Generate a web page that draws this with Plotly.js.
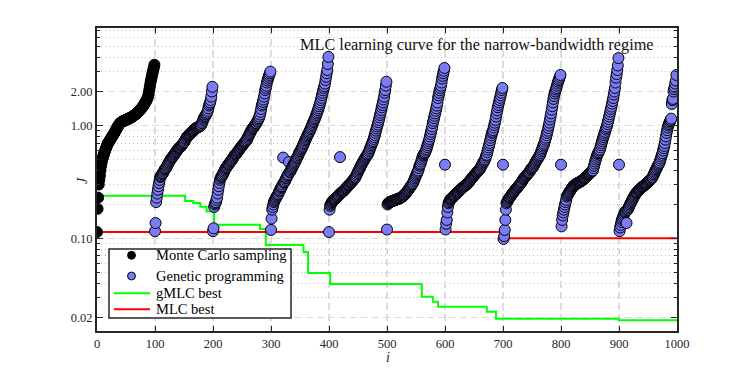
<!DOCTYPE html>
<html>
<head>
<meta charset="utf-8">
<script src="https://cdn.plot.ly/plotly-3.0.1.min.js"></script>
<style>html,body{margin:0;padding:0;background:#fff;}#chart{width:747px;height:374px;}</style>
</head>
<body>
<div id="chart"></div>
<script>
// ---- data ----
const mcJ = [0.114,0.183,0.23,0.30,0.33,0.36,0.40,0.44,0.47,0.50,
0.52,0.54,0.56,0.58,0.60,0.62,0.64,0.66,0.68,0.70,
0.71,0.72,0.74,0.75,0.77,0.78,0.80,0.81,0.83,0.84,
0.86,0.88,0.90,0.92,0.94,0.96,0.98,1.00,1.02,1.04,
1.05,1.06,1.07,1.08,1.09,1.09,1.10,1.10,1.11,1.11,
1.12,1.13,1.13,1.14,1.15,1.15,1.16,1.17,1.17,1.18,
1.19,1.20,1.21,1.22,1.23,1.24,1.25,1.26,1.27,1.29,
1.30,1.32,1.33,1.35,1.37,1.39,1.41,1.43,1.45,1.47,
1.50,1.53,1.56,1.59,1.62,1.66,1.70,1.75,1.80,1.90,
2.05,2.20,2.35,2.50,2.65,2.80,2.95,3.10,3.25,3.45];

const gpGen1 = [0.116,0.137,0.21,0.23,0.25,0.27,0.29,0.31,0.33,0.35,
0.355,0.36,0.37,0.375,0.38,0.39,0.40,0.41,0.415,0.42,
0.43,0.44,0.45,0.46,0.47,0.48,0.49,0.50,0.51,0.52,
0.525,0.53,0.54,0.55,0.56,0.57,0.58,0.59,0.60,0.61,
0.62,0.63,0.635,0.64,0.65,0.66,0.67,0.68,0.69,0.70,
0.71,0.72,0.74,0.76,0.77,0.79,0.80,0.81,0.82,0.83,
0.84,0.85,0.86,0.87,0.88,0.89,0.90,0.91,0.92,0.93,
0.94,0.95,0.955,0.96,0.965,0.97,0.98,0.985,0.99,1.00,
1.02,1.05,1.08,1.12,1.15,1.18,1.20,1.22,1.25,1.27,
1.30,1.35,1.42,1.50,1.55,1.60,1.68,1.80,2.00,2.20];

const gpGen2 = [0.116,0.123,0.19,0.20,0.205,0.21,0.22,0.23,0.25,0.27,
0.29,0.31,0.33,0.34,0.35,0.355,0.36,0.37,0.38,0.39,
0.40,0.41,0.42,0.425,0.43,0.44,0.45,0.455,0.46,0.47,
0.48,0.485,0.49,0.50,0.51,0.52,0.53,0.54,0.55,0.555,
0.56,0.57,0.58,0.59,0.60,0.61,0.62,0.63,0.64,0.65,
0.66,0.67,0.68,0.69,0.70,0.71,0.72,0.73,0.74,0.76,
0.78,0.80,0.82,0.84,0.86,0.88,0.90,0.92,0.94,0.95,
0.96,0.98,1.00,1.02,1.04,1.05,1.08,1.10,1.13,1.16,
1.20,1.25,1.32,1.40,1.50,1.55,1.62,1.70,1.80,1.92,
2.06,2.15,2.25,2.40,2.50,2.60,2.70,2.80,2.90,3.00];

const gpGen3 = [0.119,0.15,0.18,0.19,0.20,0.21,0.215,0.22,0.225,0.23,
0.235,0.24,0.245,0.25,0.26,0.265,0.27,0.28,0.285,0.29,
0.30,0.52,0.31,0.315,0.32,0.33,0.34,0.345,0.355,0.365,
0.37,0.475,0.385,0.39,0.40,0.41,0.42,0.43,0.44,0.45,
0.46,0.47,0.48,0.495,0.51,0.52,0.53,0.545,0.56,0.575,
0.59,0.60,0.615,0.63,0.645,0.66,0.68,0.70,0.72,0.74,
0.76,0.78,0.80,0.82,0.84,0.86,0.88,0.90,0.93,0.95,
0.98,1.01,1.04,1.07,1.10,1.13,1.16,1.20,1.24,1.28,
1.32,1.37,1.42,1.48,1.54,1.60,1.68,1.76,1.86,1.95,
2.05,2.15,2.23,2.35,2.53,2.70,2.90,3.10,3.50,4.05];

const gpGen4 = [0.114,0.18,0.195,0.20,0.205,0.21,0.212,0.215,0.218,0.22,
0.222,0.225,0.228,0.23,0.233,0.236,0.24,0.243,0.246,0.525,
0.25,0.252,0.255,0.258,0.26,0.263,0.266,0.27,0.273,0.276,
0.28,0.284,0.288,0.292,0.296,0.30,0.304,0.308,0.312,0.316,
0.32,0.325,0.33,0.335,0.34,0.345,0.35,0.36,0.37,0.38,
0.39,0.40,0.41,0.42,0.43,0.44,0.45,0.46,0.47,0.48,
0.49,0.50,0.51,0.52,0.53,0.54,0.55,0.56,0.57,0.59,
0.61,0.63,0.65,0.67,0.69,0.71,0.73,0.76,0.79,0.82,
0.86,0.90,0.94,0.98,1.02,1.07,1.12,1.18,1.24,1.30,
1.37,1.45,1.52,1.60,1.70,1.80,1.95,2.06,2.25,2.44];

const gpGen5 = [0.12,0.20,0.205,0.207,0.209,0.21,0.211,0.212,0.213,0.214,
0.215,0.216,0.217,0.218,0.219,0.22,0.221,0.222,0.223,0.224,
0.225,0.226,0.227,0.228,0.23,0.232,0.234,0.236,0.238,0.24,
0.243,0.246,0.25,0.254,0.258,0.262,0.266,0.27,0.275,0.28,
0.285,0.29,0.295,0.30,0.305,0.31,0.32,0.33,0.34,0.35,
0.36,0.37,0.38,0.39,0.40,0.42,0.44,0.45,0.46,0.48,
0.50,0.52,0.54,0.55,0.56,0.57,0.58,0.60,0.62,0.645,
0.67,0.70,0.73,0.76,0.80,0.84,0.88,0.93,0.98,1.05,
1.10,1.16,1.22,1.28,1.35,1.42,1.50,1.60,1.75,1.85,
1.95,2.05,2.15,2.25,2.40,2.60,2.75,2.90,3.05,3.23];

const gpGen6 = [0.45,0.12,0.135,0.146,0.17,0.19,0.205,0.21,0.215,0.22,
0.222,0.225,0.228,0.23,0.233,0.236,0.239,0.242,0.245,0.248,
0.25,0.253,0.256,0.259,0.262,0.265,0.269,0.272,0.275,0.278,
0.28,0.283,0.286,0.289,0.292,0.295,0.298,0.30,0.303,0.306,
0.31,0.315,0.32,0.325,0.33,0.335,0.34,0.345,0.35,0.355,
0.36,0.365,0.37,0.375,0.38,0.385,0.39,0.395,0.40,0.405,
0.41,0.42,0.43,0.44,0.45,0.46,0.47,0.48,0.49,0.50,
0.52,0.54,0.55,0.58,0.61,0.64,0.67,0.70,0.74,0.78,
0.82,0.86,0.88,0.91,0.96,1.01,1.06,1.12,1.20,1.28,
1.36,1.45,1.52,1.60,1.68,1.76,1.85,1.95,2.06,2.15];

const gpGen7 = [0.45,0.099,0.105,0.119,0.146,0.18,0.205,0.21,0.215,0.22,
0.225,0.228,0.232,0.236,0.24,0.244,0.248,0.252,0.256,0.26,
0.264,0.268,0.272,0.276,0.28,0.284,0.288,0.292,0.296,0.30,
0.305,0.31,0.315,0.32,0.33,0.335,0.34,0.345,0.35,0.355,
0.36,0.365,0.37,0.375,0.38,0.385,0.39,0.40,0.41,0.415,
0.42,0.425,0.43,0.44,0.45,0.46,0.47,0.48,0.49,0.50,
0.51,0.52,0.53,0.54,0.55,0.57,0.59,0.61,0.63,0.65,
0.67,0.69,0.72,0.75,0.78,0.82,0.86,0.90,0.95,1.00,
1.06,1.13,1.20,1.28,1.38,1.48,1.60,1.72,1.82,1.92,
2.00,2.08,2.15,2.25,2.35,2.44,2.52,2.60,2.70,2.80];

const gpGen8 = [0.45,0.128,0.146,0.16,0.17,0.18,0.19,0.20,0.21,0.22,
0.235,0.24,0.245,0.25,0.255,0.26,0.265,0.27,0.275,0.28,
0.285,0.29,0.293,0.296,0.30,0.302,0.304,0.306,0.308,0.31,
0.312,0.314,0.316,0.318,0.32,0.323,0.326,0.328,0.33,0.334,
0.338,0.342,0.346,0.35,0.354,0.358,0.362,0.366,0.37,0.374,
0.378,0.382,0.386,0.39,0.395,0.40,0.42,0.44,0.46,0.48,
0.50,0.52,0.54,0.56,0.57,0.58,0.60,0.61,0.64,0.67,
0.70,0.73,0.76,0.79,0.82,0.85,0.88,0.92,0.95,0.98,
1.03,1.08,1.14,1.20,1.26,1.33,1.40,1.47,1.56,1.65,
1.75,1.88,2.00,2.15,2.40,2.65,2.85,3.10,3.40,3.95];

const gpGen9 = [0.45,0.116,0.125,0.132,0.14,0.146,0.15,0.155,0.16,0.165,
0.17,0.172,0.175,0.137,0.178,0.18,0.185,0.19,0.195,0.20,
0.205,0.21,0.215,0.22,0.225,0.23,0.235,0.24,0.245,0.25,
0.253,0.256,0.26,0.263,0.266,0.27,0.273,0.276,0.28,0.283,
0.285,0.288,0.29,0.293,0.296,0.30,0.303,0.306,0.31,0.313,
0.316,0.32,0.323,0.326,0.33,0.335,0.34,0.345,0.35,0.36,
0.37,0.38,0.39,0.40,0.41,0.42,0.43,0.44,0.45,0.46,
0.47,0.49,0.51,0.53,0.55,0.57,0.60,0.63,0.66,0.70,
0.75,0.80,0.86,0.91,0.96,1.00,1.03,1.06,1.09,1.12,
1.15,1.55,1.68,1.72,2.00,2.10,2.20,2.35,2.50,2.80];

const gmlcStepI = [0,152,166,178,189,202,281,291,356,364,402,560,579,588,672,688,899,1000];
const gmlcStepJ = [0.239,0.215,0.206,0.191,0.173,0.132,0.121,0.0876,0.076,0.0495,0.0396,0.0305,0.0276,0.0249,0.0225,0.0195,0.0189,0.0189];
const mlcStepI = [0,705,1000];
const mlcStepJ = [0.114,0.1004,0.1004];

const xTickVals = [0,100,200,300,400,500,600,700,800,900,1000];
const yTickVals = [0.02,0.1,1,2];
const yTickText = ['0.02','0.10','1.00','2.00'];
const legendNames = ['Monte Carlo sampling','Genetic programming','gMLC best','MLC best'];

// ---- styles ----
const serif = 'Liberation Serif, DejaVu Serif, serif';
const ink = '#262626';
const colMC = '#000000', colGP = '#7b7bf6', colG = '#00ff00', colR = '#ff0000';

// ---- build traces ----
const gpGens = [gpGen1,gpGen2,gpGen3,gpGen4,gpGen5,gpGen6,gpGen7,gpGen8,gpGen9];
const mcI = mcJ.map((_, k) => k);
const gpI = [], gpJ = [];
gpGens.forEach((g, gi) => g.forEach((v, k) => { gpI.push(100 * (gi + 1) + k); gpJ.push(v); }));

const yMinor = [];
[0.01, 0.1, 1].forEach(d => { for (let m = 2; m <= 9; m++) { const v = +(m * d).toPrecision(3); if (yTickVals.indexOf(v) < 0) yMinor.push(v); } });

const traces = [
  {x: gmlcStepI, y: gmlcStepJ, mode: 'lines', line: {color: colG, width: 2, shape: 'hv'}, name: legendNames[2]},
  {x: mlcStepI, y: mlcStepJ, mode: 'lines', line: {color: colR, width: 2, shape: 'hv'}, name: legendNames[3]},
  {x: mcI, y: mcJ, mode: 'markers', marker: {color: colMC, size: 11, line: {color: '#000', width: 1}}, name: legendNames[0]},
  {x: gpI, y: gpJ, mode: 'markers', marker: {color: colGP, size: 11, line: {color: '#000', width: 1}}, name: legendNames[1]}
];

// ---- legend box (drawn in paper coordinates, like the reference's boxed legend) ----
const L = {x0: 0.0207, x1: 0.3345, y0: 0.0429, y1: 0.2706};
const rowY = [0.2498, 0.1815, 0.1244, 0.0716];
const symX = 0.0595, symHalfW = 0.0068, symHalfH = 0.0130, lineX0 = 0.0293, lineX1 = 0.0914, textX = 0.0983;
const shapes = [
  {type: 'rect', xref: 'paper', yref: 'paper', x0: L.x0, x1: L.x1, y0: L.y0, y1: L.y1,
   fillcolor: '#fff', line: {color: ink, width: 1.5}, layer: 'above'},
  {type: 'circle', xref: 'paper', yref: 'paper', x0: symX - symHalfW, x1: symX + symHalfW, y0: rowY[0] - symHalfH, y1: rowY[0] + symHalfH,
   fillcolor: colMC, line: {color: '#000', width: 1}, layer: 'above'},
  {type: 'circle', xref: 'paper', yref: 'paper', x0: symX - symHalfW, x1: symX + symHalfW, y0: rowY[1] - symHalfH, y1: rowY[1] + symHalfH,
   fillcolor: colGP, line: {color: '#000', width: 1}, layer: 'above'},
  {type: 'line', xref: 'paper', yref: 'paper', x0: lineX0, x1: lineX1, y0: rowY[2], y1: rowY[2], line: {color: colG, width: 2}, layer: 'above'},
  {type: 'line', xref: 'paper', yref: 'paper', x0: lineX0, x1: lineX1, y0: rowY[3], y1: rowY[3], line: {color: colR, width: 2}, layer: 'above'}
];
const annotations = [
  {text: 'MLC learning curve for the narrow-bandwidth regime', xref: 'paper', yref: 'paper', x: 0.655, y: 0.947,
   xanchor: 'center', yanchor: 'middle', showarrow: false, font: {family: serif, size: 16.3, color: '#111'}},
  {text: '<i>J</i>', xref: 'paper', yref: 'paper', x: -0.026, y: 0.498, xanchor: 'center', yanchor: 'middle',
   textangle: -90, showarrow: false, font: {family: serif, size: 14, color: ink}},
  {text: '<i>i</i>', xref: 'paper', yref: 'paper', x: 0.502, y: -0.089, xanchor: 'center', yanchor: 'middle',
   showarrow: false, font: {family: serif, size: 14, color: ink}}
];
legendNames.forEach((n, k) => annotations.push({text: n, xref: 'paper', yref: 'paper', x: textX, y: rowY[k],
  xanchor: 'left', yanchor: 'middle', showarrow: false, font: {family: serif, size: 14.5, color: '#000'}}));

const layout = {
  width: 747, height: 374,
  margin: {l: 97, r: 70, t: 28, b: 43},
  paper_bgcolor: '#fff', plot_bgcolor: '#fff',
  font: {family: serif, size: 12, color: ink},
  showlegend: false,
  xaxis: {range: [0, 1000], tickmode: 'array', tickvals: xTickVals, ticks: 'inside', ticklen: 5, tickwidth: 1, tickcolor: ink,
          showline: true, linecolor: ink, linewidth: 2, mirror: 'allticks', zeroline: false,
          showgrid: true, gridcolor: '#dcdcdc', griddash: '7px,4px', gridwidth: 1.2,
          tickfont: {family: serif, size: 12.5, color: ink}},
  yaxis: {type: 'log', range: [-1.819, 0.863], tickmode: 'array', tickvals: yTickVals, ticktext: yTickText,
          ticks: 'inside', ticklen: 6, tickwidth: 1, tickcolor: ink,
          showline: true, linecolor: ink, linewidth: 2, mirror: 'allticks', zeroline: false,
          showgrid: true, gridcolor: '#dcdcdc', griddash: '7px,4px', gridwidth: 1.2,
          tickfont: {family: serif, size: 12.5, color: ink},
          minor: {tickmode: 'array', tickvals: yMinor, ticks: 'inside', ticklen: 3, tickwidth: 1, tickcolor: ink,
                  showgrid: true, gridcolor: '#bdbdbd', griddash: '1px,3px', gridwidth: 1}},
  shapes: shapes,
  annotations: annotations
};

Plotly.newPlot('chart', traces, layout, {displayModeBar: false, staticPlot: true});
</script>
</body>
</html>
